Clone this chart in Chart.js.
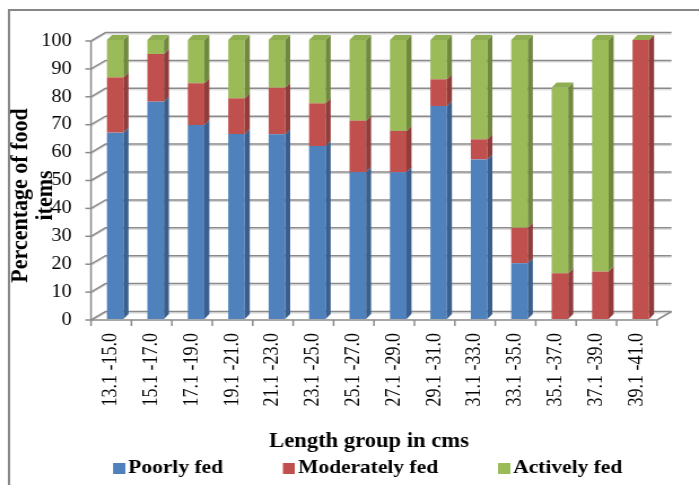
<!DOCTYPE html>
<html>
<head>
<meta charset="utf-8">
<style>
  html, body { margin: 0; padding: 0; background: #fff; overflow: hidden; }
  canvas { display: block; }
</style>
<script src="https://cdn.jsdelivr.net/npm/chart.js@4.4.1/dist/chart.umd.min.js"></script>
</head>
<body>
<canvas id="chart" width="619" height="485" style="width:699px;height:485px"></canvas>
<script>
// Length groups (cm)
const categories = [
  '13.1 -15.0', '15.1 -17.0', '17.1 -19.0', '19.1 -21.0', '21.1 -23.0',
  '23.1 -25.0', '25.1 -27.0', '27.1 -29.0', '29.1 -31.0', '31.1 -33.0',
  '33.1 -35.0', '35.1 -37.0', '37.1 -39.0', '39.1 -41.0'
];

// Feeding condition, % of food items per length group
const poorlyFed     = [66.8, 77.9, 69.5, 66.3, 66.2, 62.0, 52.7, 52.6, 76.3, 57.2, 20.0, 0, 0, 0];
const moderatelyFed = [19.8, 17.1, 15.0, 12.8, 16.7, 15.3, 18.4, 14.8, 9.6, 7.2, 12.7, 16.4, 17.0, 100];
const activelyFed   = [13.4, 5.0, 15.5, 20.9, 17.1, 22.7, 28.9, 32.6, 14.1, 35.6, 67.3, 66.6, 83.0, 0];

const seriesNames = ['Poorly fed', 'Moderately fed', 'Actively fed'];

// ---- styling ----
const SERIF = "'Liberation Serif', 'Times New Roman', serif";
const FRONT = ['#4f81bd', '#c0504d', '#9bbb59'];
const SIDE  = ['#3a5f8d', '#8f3c3a', '#71893f'];
const TOP   = '#8fae52';

// the canvas is drawn narrower and widened by CSS
const SX = 699 / 619;
const hx = v => v / SX;

const WALL_DX = hx(14.5), WALL_DY = -8.5;   // floor / back wall depth
const BAR_DX = hx(4), BAR_DY = -1;          // bars sit a little behind the front edge
const FACE_DX = hx(5), FACE_DY = -5;        // bar depth faces
const GRID = '#8a8a8a';

const LEGEND_PAD = 53;
const LEGEND_X = hx(113);
const LEGEND_ROW_Y = 459;
const SWATCH_STEP = 4;                      // legend advance taken by the swatch
const Y_TITLE_SHIFT = 15;
const X_TITLE_SHIFT = hx(-5);

// legend swatch: square placed so the label sits close to it
function makeSwatch(color) {
  const cv = document.createElement('canvas');
  cv.width = 18;
  cv.height = 11;
  const g = cv.getContext('2d');
  g.fillStyle = color;
  g.fillRect(7, 0, 11, 11);
  return cv;
}
const swatches = FRONT.map(makeSwatch);

function shiftTitle(scale, dx, dy) {
  if (scale._titleShifted) return;
  const orig = scale.drawTitle;
  scale.drawTitle = function (...args) {
    const c = this.ctx;
    c.save();
    c.translate(dx, dy);
    orig.apply(this, args);
    c.restore();
  };
  scale._titleShifted = true;
}

const depthPlugin = {
  id: 'depth3d',
  beforeDraw(chart) {
    const c = chart.ctx;
    c.save();
    c.strokeStyle = '#878787';
    c.lineWidth = 2;
    c.strokeRect(hx(9), 10, 800, 600);
    c.restore();
  },
  afterLayout(chart) {
    const lg = chart.legend;
    if (lg) {
      lg.left = LEGEND_X - LEGEND_PAD;
      lg.right = chart.width + 200;
      lg.top = LEGEND_ROW_Y - LEGEND_PAD;
      lg.bottom = chart.height;
    }
    shiftTitle(chart.scales.y, 0, Y_TITLE_SHIFT);
    shiftTitle(chart.scales.x, X_TITLE_SHIFT, 2);
  },
  beforeDatasetsDraw(chart) {
    const c = chart.ctx, a = chart.chartArea;
    const ys = chart.scales.y;
    const y0 = ys.getPixelForValue(0);
    c.save();
    c.lineCap = 'butt';
    // back wall gridlines and left wall diagonals
    ys.ticks.forEach(t => {
      const yf = ys.getPixelForValue(t.value);
      const yb = yf + WALL_DY;
      c.strokeStyle = '#d2d2d2';
      c.lineWidth = 1;
      c.beginPath();
      c.moveTo(a.left, yf + 1.5);
      c.lineTo(a.left + WALL_DX, yb + 1.5);
      c.lineTo(a.right + WALL_DX, yb + 1.5);
      c.stroke();
      c.strokeStyle = GRID;
      c.lineWidth = 1.5;
      c.beginPath();
      c.moveTo(a.left, yf);
      c.lineTo(a.left + WALL_DX, yb);
      c.lineTo(a.right + WALL_DX, yb);
      c.stroke();
      // tick mark on the value axis
      c.beginPath();
      c.moveTo(a.left - 5, yf);
      c.lineTo(a.left, yf);
      c.stroke();
    });
    // value axis line
    c.strokeStyle = GRID;
    c.lineWidth = 1.5;
    c.beginPath();
    c.moveTo(a.left, ys.getPixelForValue(100));
    c.lineTo(a.left, y0);
    c.stroke();
    // floor: front edge and right edge
    c.beginPath();
    c.moveTo(a.left, y0);
    c.lineTo(a.right, y0);
    c.lineTo(a.right + WALL_DX, y0 + WALL_DY);
    c.stroke();
    // category tick marks
    const n = categories.length;
    const step = (a.right - a.left) / n;
    for (let i = 0; i <= n; i++) {
      const x = a.left + i * step;
      c.beginPath();
      c.moveTo(x, y0);
      c.lineTo(x, y0 + 6);
      c.stroke();
    }
    c.restore();
    // bars are drawn slightly behind the front plane
    c.save();
    c.translate(BAR_DX, BAR_DY);
  },
  afterDatasetsDraw(chart) {
    const c = chart.ctx;
    const metas = [0, 1, 2].map(i => chart.getDatasetMeta(i));
    for (let i = 0; i < categories.length; i++) {
      let left = 0, right = 0, stackTop = null;
      metas.forEach((meta, d) => {
        const el = meta.data[i];
        const p = el.getProps(['x', 'y', 'base', 'width'], true);
        left = p.x - p.width / 2;
        right = p.x + p.width / 2;
        const top = Math.min(p.y, p.base), bottom = Math.max(p.y, p.base);
        stackTop = top;
        if (bottom - top < 0.01) return;
        c.fillStyle = SIDE[d];
        c.beginPath();
        c.moveTo(right, bottom);
        c.lineTo(right + FACE_DX, bottom + FACE_DY);
        c.lineTo(right + FACE_DX, top + FACE_DY);
        c.lineTo(right, top);
        c.closePath();
        c.fill();
      });
      // top face of the stack
      c.fillStyle = TOP;
      c.beginPath();
      c.moveTo(left, stackTop);
      c.lineTo(left + FACE_DX, stackTop + FACE_DY);
      c.lineTo(right + FACE_DX, stackTop + FACE_DY);
      c.lineTo(right, stackTop);
      c.closePath();
      c.fill();
    }
    c.restore();
  }
};

const seriesValues = [poorlyFed, moderatelyFed, activelyFed];

new Chart(document.getElementById('chart'), {
  type: 'bar',
  data: {
    labels: categories,
    datasets: seriesNames.map((name, i) => ({
      label: name,
      data: seriesValues[i],
      backgroundColor: FRONT[i],
      borderWidth: 0,
      clip: false,
      barPercentage: 0.41,
      categoryPercentage: 1
    }))
  },
  options: {
    responsive: false,
    maintainAspectRatio: false,
    devicePixelRatio: 1,
    animation: false,
    events: [],
    layout: { padding: { top: 41, right: 619 - hx(657), bottom: 0, left: 0 } },
    plugins: {
      tooltip: { enabled: false },
      legend: {
        position: 'bottom',
        align: 'start',
        maxHeight: 33,
        labels: {
          color: '#000',
          usePointStyle: true,
          pointStyleWidth: SWATCH_STEP,
          boxHeight: 11,
          padding: LEGEND_PAD,
          font: { family: SERIF, size: 19, weight: 'bold' },
          generateLabels(chart) {
            const items = Chart.defaults.plugins.legend.labels.generateLabels(chart);
            items.forEach((it, i) => { it.pointStyle = swatches[i]; it.lineWidth = 0; });
            return items;
          }
        }
      }
    },
    scales: {
      x: {
        stacked: true,
        grid: { display: false, drawTicks: true, tickLength: 5 },
        border: { display: false },
        ticks: {
          autoSkip: false,
          minRotation: 90,
          maxRotation: 90,
          padding: 8,
          color: '#000',
          font: { family: SERIF, size: 18 }
        },
        title: {
          display: true,
          text: 'Length group in cms',
          color: '#000',
          padding: { top: 0, bottom: 0 },
          font: { family: SERIF, size: 20, weight: 'bold', lineHeight: 1.2 }
        },
        afterFit(s) { s.height = 132; }
      },
      y: {
        stacked: true,
        min: 0,
        max: 100,
        grid: { display: false, drawTicks: true, tickLength: 5 },
        border: { display: false },
        ticks: {
          stepSize: 10,
          padding: 12,
          color: '#000',
          font: { family: SERIF, size: 18 }
        },
        title: {
          display: true,
          text: ['Percentage of food', 'items'],
          color: '#000',
          padding: { top: 7.6, bottom: 0 },
          font: { family: SERIF, size: 22, weight: 'bold', lineHeight: 1 }
        },
        afterFit(s) { s.width = hx(91); }
      }
    }
  },
  plugins: [depthPlugin]
});
</script>
</body>
</html>
